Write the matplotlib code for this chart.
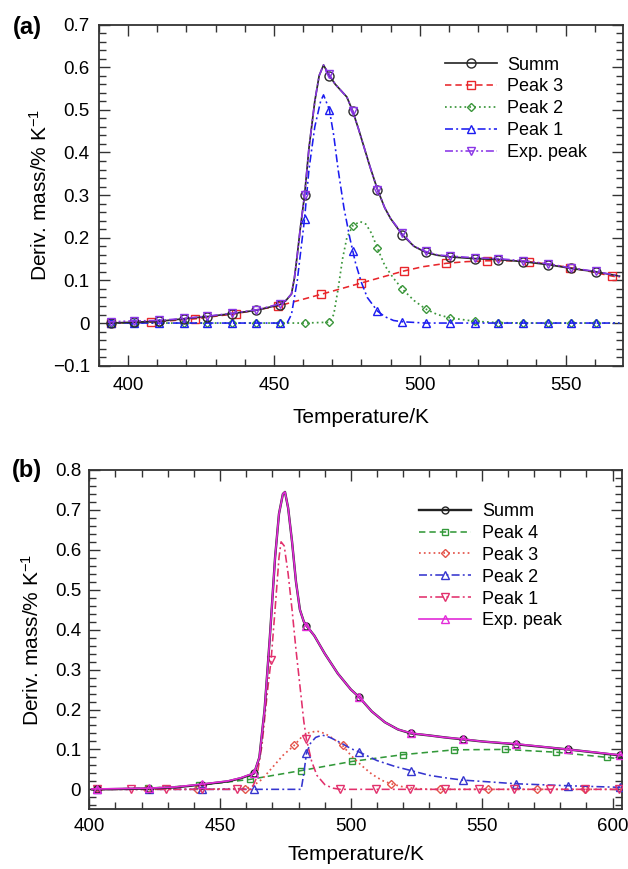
import numpy as np
import matplotlib
matplotlib.use('Agg')
import matplotlib.pyplot as plt
from matplotlib.lines import Line2D
from matplotlib.ticker import MultipleLocator, FixedLocator, FixedFormatter

plt.rcParams['font.family'] = ['Liberation Sans', 'DejaVu Sans']
plt.rcParams['mathtext.default'] = 'regular'

# ---------------- panel (a) data ----------------
a_sum_T = [393, 394, 402, 410.5, 419, 427, 435.5, 444, 452, 454, 456, 457, 458, 459,
           460.5, 462, 464, 465.5, 467, 469, 471, 473, 475, 477, 479, 481, 483, 485.5,
           488, 490, 494, 498, 502, 506, 510.5, 519, 527, 535.5, 544, 552, 560.5, 568.5]
a_sum_y = [0.0, 0.0, 0.002, 0.004, 0.01, 0.015, 0.022, 0.03, 0.043, 0.052, 0.068, 0.105, 0.16, 0.22,
           0.30, 0.41, 0.52, 0.58, 0.605, 0.58, 0.56, 0.545, 0.53, 0.497, 0.455, 0.41, 0.365, 0.313,
           0.27, 0.245, 0.207, 0.18, 0.166, 0.159, 0.155, 0.151, 0.149, 0.144, 0.137, 0.128, 0.12, 0.11]
a_exp_y = [0.002, 0.003, 0.005, 0.006, 0.011, 0.016, 0.023, 0.031, 0.045, 0.053, 0.068, 0.105, 0.16, 0.22,
           0.30, 0.41, 0.52, 0.58, 0.605, 0.583, 0.56, 0.545, 0.53, 0.497, 0.455, 0.41, 0.365, 0.313,
           0.27, 0.245, 0.21, 0.18, 0.168, 0.16, 0.157, 0.153, 0.151, 0.146, 0.139, 0.129, 0.121, 0.11]
a_marks = [394, 402, 410.5, 419, 427, 435.5, 444, 452, 460.5, 469, 477, 485.5, 494,
           502, 510.5, 519, 527, 535.5, 544, 552, 560.5]

a_p1_T = [393, 394, 402, 410.5, 419, 427, 435.5, 444, 452,
          454.5, 456, 458, 460.5, 462, 464, 466, 467, 469,
          470.5, 472, 474, 476, 477, 478, 480, 482,
          485.5, 488, 491, 494,
          502, 510.5, 519, 527, 535.5, 544, 552, 560.5, 568.5]
a_p1_y = [0, 0, 0, 0, 0, 0, 0, 0, 0,
          0.0, 0.02, 0.10, 0.245, 0.36, 0.46, 0.52, 0.535, 0.50,
          0.44, 0.36, 0.27, 0.20, 0.17, 0.14, 0.095, 0.06,
          0.028, 0.015, 0.006, 0.003,
          0, 0, 0, 0, 0, 0, 0, 0, 0]

a_p2_T = [393, 394, 402, 410.5, 419, 427, 435.5, 444, 452, 460.5,
          469, 470.5, 472, 473.5, 475, 477, 479.5, 481.5, 483.5, 485.5,
          488, 491, 494, 498, 502, 506, 510.5, 519, 527,
          535.5, 544, 552, 560.5, 568.5]
a_p2_y = [0, 0, 0, 0, 0, 0, 0, 0, 0, 0,
          0.002, 0.02, 0.08, 0.15, 0.20, 0.228, 0.238, 0.232, 0.21, 0.175,
          0.135, 0.105, 0.08, 0.053, 0.033, 0.02, 0.012, 0.004, 0.001,
          0, 0, 0, 0, 0]

a_p3_T = [393, 394, 408, 423, 437, 451.5, 466, 480, 494.5, 501, 509, 516, 523, 530,
          537.5, 544, 551.5, 559, 566, 568.5]
a_p3_y = [0, 0, 0.002, 0.01, 0.022, 0.04, 0.067, 0.094, 0.122, 0.132, 0.14, 0.144, 0.146, 0.146,
          0.144, 0.138, 0.13, 0.12, 0.11, 0.107]
a_p3_marks = [394, 408, 423, 437, 451.5, 466, 480, 494.5, 509, 523, 537.5, 551.5, 566]

a_yticks = [-0.1, 0, 0.1, 0.2, 0.3, 0.4, 0.5, 0.6, 0.7]
a_yticklabels = ['\u22120.1', '0', '0.1', '0.2', '0.3', '0.4', '0.5', '0.6', '0.7']
a_xticks = [400, 450, 500, 550]
a_xticklabels = ['400', '450', '500', '550']

# ---------------- panel (b) data ----------------
b_sum_T = [401, 403, 413, 423, 433, 443, 453, 458, 463,
           465, 467, 469, 471, 472.5, 474, 474.8, 476, 477.5, 479,
           480.5, 482, 483, 486, 490, 495, 500, 503, 508, 513,
           518, 523, 530, 536, 543, 550, 563, 583, 603, 605]
b_sum_y = [0, 0, 0.001, 0.002, 0.005, 0.012, 0.02, 0.028, 0.04,
           0.08, 0.2, 0.38, 0.58, 0.69, 0.74, 0.745, 0.705, 0.62, 0.52,
           0.45, 0.42, 0.41, 0.385, 0.34, 0.29, 0.25, 0.232, 0.195, 0.168,
           0.15, 0.14, 0.135, 0.13, 0.125, 0.12, 0.113, 0.1, 0.085, 0.083]
b_exp_y = [0.001, 0.001, 0.002, 0.003, 0.006, 0.013, 0.021, 0.029, 0.041,
           0.08, 0.2, 0.38, 0.58, 0.69, 0.74, 0.745, 0.705, 0.62, 0.52,
           0.45, 0.42, 0.41, 0.385, 0.34, 0.29, 0.25, 0.232, 0.195, 0.168,
           0.15, 0.141, 0.135, 0.13, 0.126, 0.12, 0.114, 0.1, 0.086, 0.084]
b_marks = [403, 423, 443, 463, 483, 503, 523, 543, 563, 583, 603]

b_p1_T = [401, 403, 416, 429.5, 443, 456.5,
          462, 464, 466, 468, 469.5, 471, 472.5, 473.3, 474.5, 476,
          477.5, 479, 480.5, 482, 483, 485, 487, 490, 493, 496,
          509.5, 522.5, 536, 549, 562.5, 576, 589.5, 602.5, 605]
b_p1_y = [0, 0, 0, 0, 0, 0,
          0, 0.03, 0.11, 0.24, 0.325, 0.45, 0.58, 0.62, 0.61, 0.54,
          0.45, 0.35, 0.26, 0.17, 0.125, 0.07, 0.035, 0.012, 0.003, 0,
          0, 0, 0, 0, 0, 0, 0, 0, 0]
b_p1_marks = [403, 416, 429.5, 443, 456.5, 469.5, 483, 496, 509.5, 522.5, 536, 549,
              562.5, 576, 589.5, 602.5]

b_p2_T = [401, 403, 423, 443, 463,
          481, 482, 483, 484.5, 486.5, 489, 492, 496, 500, 503,
          510, 517, 523, 530, 537, 543, 550, 563, 583, 603, 605]
b_p2_y = [0, 0, 0, 0, 0,
          0.0, 0.04, 0.09, 0.115, 0.13, 0.136, 0.13, 0.117, 0.102, 0.094,
          0.072, 0.057, 0.047, 0.035, 0.028, 0.023, 0.02, 0.014, 0.009, 0.005, 0.005]

b_p3_T = [401, 403.5, 422, 441, 459.5,
          462, 466, 470, 474, 478.3, 481, 484, 487, 490, 493,
          496.8, 500, 504, 508, 512, 515.3, 520, 525, 530, 534,
          552.5, 571, 589.5, 605]
b_p3_y = [0, 0, 0, 0, 0.002,
          0.006, 0.025, 0.055, 0.085, 0.11, 0.13, 0.142, 0.146, 0.14, 0.128,
          0.11, 0.085, 0.06, 0.038, 0.022, 0.014, 0.006, 0.002, 0, 0,
          0, 0, 0, 0]
b_p3_marks = [403.5, 422, 441, 459.5, 478.3, 496.8, 515.3, 534, 552.5, 571, 589.5]

b_p4_T = [401, 403, 422.5, 442, 461.5, 481, 500.5, 520, 539.5, 559, 578.5, 598, 605]
b_p4_y = [0, 0, 0.003, 0.01, 0.025, 0.047, 0.07, 0.087, 0.099, 0.1, 0.093, 0.08, 0.075]
b_p4_marks = [403, 422.5, 442, 461.5, 481, 500.5, 520, 539.5, 559, 578.5, 598]

b_yticks = [0, 0.1, 0.2, 0.3, 0.4, 0.5, 0.6, 0.7, 0.8]
b_yticklabels = ['0', '0.1', '0.2', '0.3', '0.4', '0.5', '0.6', '0.7', '0.8']
b_xticks = [400, 450, 500, 550, 600]
b_xticklabels = ['400', '450', '500', '550', '600']

# ---------------- styles ----------------
DASH = (0, (4, 2.5))
DOT = (0, (1, 1.8))
DASHDOT = (0, (5, 2, 1.2, 2))
DASHDOTDOT = (0, (5, 1.8, 1.2, 1.8, 1.2, 1.8))

W, H = 628, 869
fig = plt.figure(figsize=(W / 100, H / 100), dpi=100)

axa = fig.add_axes([99 / W, 1 - 365.7 / H, (623.3 - 99) / W, (365.7 - 24.5) / H])
axb = fig.add_axes([89.3 / W, 1 - 809.3 / H, (621.7 - 89.3) / W, (809.3 - 470) / H])


def draw(ax, T, y, marks, color, ls, marker, ms, lw, z):
    T = np.asarray(T, dtype=float)
    idx = list(np.flatnonzero(np.isin(T, np.asarray(marks, dtype=float))))
    ax.plot(T, y, color=color, ls=ls, lw=lw, marker=marker, ms=ms, mfc='none',
            mec=color, mew=1.0, markevery=idx, zorder=z)
    return Line2D([], [], color=color, ls=ls, lw=lw, marker=marker, ms=ms,
                  mfc='none', mec=color, mew=1.0)


# panel (a)
ca = {'summ': '#2b2b2b', 'p3': '#e8262b', 'p2': '#3b963b', 'p1': '#1c1cf0', 'exp': '#8a35e6'}
h3 = draw(axa, a_p3_T, a_p3_y, a_p3_marks, ca['p3'], DASH, 's', 5.2, 1.15, 3)
h2 = draw(axa, a_p2_T, a_p2_y, a_marks, ca['p2'], DOT, 'D', 4.4, 1.25, 4)
h1 = draw(axa, a_p1_T, a_p1_y, a_marks, ca['p1'], DASHDOT, '^', 5.8, 1.15, 5)
hs = draw(axa, a_sum_T, a_sum_y, a_marks, ca['summ'], '-', 'o', 6.5, 1.25, 6)
he = draw(axa, a_sum_T, a_exp_y, a_marks, ca['exp'], DASHDOTDOT, 'v', 5.8, 1.15, 7)
axa.legend([hs, h3, h2, h1, he], ['Summ', 'Peak 3', 'Peak 2', 'Peak 1', 'Exp. peak'],
           loc='upper left', bbox_to_anchor=(445 / W, 1 - 56.5 / H),
           bbox_transform=fig.transFigure, frameon=False, fontsize=13,
           handlelength=2.88, handletextpad=0.55, labelspacing=0.27,
           borderpad=0, borderaxespad=0, numpoints=1)

axa.set_xlim(390, 569.8)
axa.set_ylim(-0.1, 0.7)
axa.xaxis.set_major_locator(FixedLocator(a_xticks))
axa.xaxis.set_major_formatter(FixedFormatter(a_xticklabels))
axa.yaxis.set_major_locator(FixedLocator(a_yticks))
axa.yaxis.set_major_formatter(FixedFormatter(a_yticklabels))

# panel (b)
cb = {'summ': '#222222', 'p4': '#33993a', 'p3': '#e4544a', 'p2': '#3535cf',
      'p1': '#e2306c', 'exp': '#e22ad8'}
g4 = draw(axb, b_p4_T, b_p4_y, b_p4_marks, cb['p4'], DASH, 's', 4.8, 1.15, 3)
g3 = draw(axb, b_p3_T, b_p3_y, b_p3_marks, cb['p3'], DOT, 'D', 4.2, 1.25, 4)
g2 = draw(axb, b_p2_T, b_p2_y, b_marks, cb['p2'], DASHDOT, '^', 5.2, 1.15, 5)
g1 = draw(axb, b_p1_T, b_p1_y, b_p1_marks, cb['p1'], DASHDOT, 'v', 5.2, 1.15, 6)
gs = draw(axb, b_sum_T, b_sum_y, b_marks, cb['summ'], '-', 'o', 5.0, 1.7, 7)
ge = draw(axb, b_sum_T, b_exp_y, b_marks, cb['exp'], '-', '^', 5.2, 1.2, 8)
axb.legend([gs, g4, g3, g2, g1, ge], ['Summ', 'Peak 4', 'Peak 3', 'Peak 2', 'Peak 1', 'Exp. peak'],
           loc='upper left', bbox_to_anchor=(419.3 / W, 1 - 503 / H),
           bbox_transform=fig.transFigure, frameon=False, fontsize=13,
           handlelength=2.85, handletextpad=0.65, labelspacing=0.27,
           borderpad=0, borderaxespad=0, numpoints=1)

axb.set_xlim(400, 603.5)
axb.set_ylim(-0.05, 0.8)
axb.xaxis.set_major_locator(FixedLocator(b_xticks))
axb.xaxis.set_major_formatter(FixedFormatter(b_xticklabels))
axb.yaxis.set_major_locator(FixedLocator(b_yticks))
axb.yaxis.set_major_formatter(FixedFormatter(b_yticklabels))

for ax, xpad, ypad in ((axa, 8.3, 6.6), (axb, 6.3, 5.8)):
    ax.xaxis.set_minor_locator(MultipleLocator(10))
    ax.yaxis.set_minor_locator(MultipleLocator(0.02))
    ax.tick_params(which='both', direction='in', top=True, right=True,
                   color='#333333', labelsize=13.5, labelcolor='black')
    ax.tick_params(which='major', length=8, width=1.0)
    ax.tick_params(which='minor', length=4.8, width=1.0)
    ax.tick_params(axis='x', which='major', pad=xpad)
    ax.tick_params(axis='y', which='major', pad=ypad)
    for sp in ax.spines.values():
        sp.set_linewidth(1.3)
        sp.set_color('#333333')
    ax.set_xlabel('Temperature/K', fontsize=15)
    ax.set_ylabel('Deriv. mass/% K$^{\u22121}$', fontsize=15)

axa.xaxis.set_label_coords(0.5, -0.125)
axa.yaxis.set_label_coords(-0.0915, 0.5)
axb.xaxis.set_label_coords(0.5, -0.105)
axb.yaxis.set_label_coords(-0.087, 0.5)

fig.text(27 / W, 1 - 27.5 / H, '(a)', ha='center', va='center', fontsize=17, fontweight='bold')
fig.text(27 / W, 1 - 471 / H, '(b)', ha='center', va='center', fontsize=17, fontweight='bold')

fig.savefig('out.png', dpi=100)
